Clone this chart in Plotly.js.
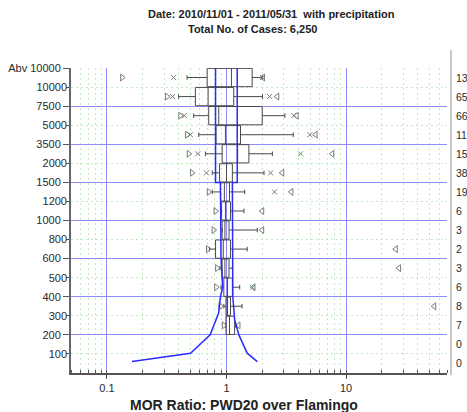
<!DOCTYPE html>
<html>
<head>
<meta charset="utf-8">
<script src="https://cdn.plot.ly/plotly-3.0.1.min.js"></script>
<style>html,body{margin:0;padding:0;background:#fff;overflow:hidden}#chart{width:467px;height:412px}</style>
</head>
<body>
<div id="chart"></div>
<script>
// Visibility bins (y axis boundaries), bottom to top
const binLabels = ['100','200','300','400','500','600','800','1000','1200','1500','2000','3500','5000','7500','10000','Abv 10000'];
// Case counts shown at right, per row (row 0 = bottom); only the visible digits
const rowCounts = ['0','0','7','8','6','3','2','3','6','19','38','15','11','66','65','13'];

// Box rows (row index, 0 = bottom)
const boxRows   = [15, 14, 13, 12, 11, 10, 9, 8, 7, 6, 5, 4, 3, 2];
const minVal    = [0.134, 0.318, 0.411, 0.468, 0.483, 0.515, 0.711, 0.81, 0.78, 0.70, 0.835, 0.82, 0.89, 0.95];
const lowPct    = [0.361, 0.354, 0.444, 0.499, 0.575, 0.68, null, null, null, null, null, null, null, null];
const whiskLow  = [0.468, 0.398, 0.532, 0.586, 0.667, 0.76, 0.76, 0.91, 0.92, 0.72, 0.88, 0.90, 0.95, 0.99];
const q1Val     = [0.689, 0.549, 0.71, 0.817, 0.92, 0.875, 0.89, 0.91, 0.92, 0.81, 0.92, 0.95, 0.99, 0.99];
const medVal    = [1.10, 0.702, 0.862, 0.98, 1.24, 1.0, 0.96, 0.98, 0.97, 0.94, 0.97, 1.02, 1.02, 1.06];
const q3Val     = [1.64, 1.15, 1.99, 1.31, 1.54, 1.12, 1.06, 1.08, 1.05, 1.08, 1.05, 1.12, 1.08, 1.17];
const whiskHigh = [1.99, 2.0, 3.08, 3.62, 2.42, 2.06, 1.42, 1.40, 1.81, 1.49, 1.12, 1.29, 1.35, 1.19];
const highPct   = [2.0, 2.29, 3.66, 4.99, 4.17, 2.34, 2.52, null, null, null, null, 1.65, null, null];
const maxVal    = [2.02, 2.66, 3.86, 5.57, 7.68, 2.93, 3.49, 1.99, 1.99, 26.1, 27.8, 1.68, 54.7, 1.26];

// Blue envelope line (x ratio, y row position)
const envLeftX  = [0.162, 0.50, 0.73, 0.86, 0.89, 0.93, 0.90, 0.89, 0.81, 0.81];
const envLeftY  = [0.1, 0.54, 1.5, 2.64, 3.5, 4.0, 5.5, 9.5, 9.5, 15.8];
const envRightX = [1.23, 1.23, 1.12, 1.12, 1.13, 1.17, 1.27, 1.49, 1.81];
const envRightY = [15.8, 9.5, 9.5, 5.0, 3.5, 2.3, 1.5, 0.54, 0.1];

// x tick values
const xTicks = [0.1, 1, 10];
const xTickText = ['0.1', '1', '10'];

const majorIdx = binLabels.map((_, i) => i).filter(i => i % 2 === 1);
const minorIdx = binLabels.map((_, i) => i).filter(i => i % 2 === 0);

const gray = '#7a7a7a';
const green = '#5aa05a';
const highColors = boxRows.map(r => (r === 11 || r === 4) ? green : gray);

const traces = [
  {
    type: 'box', orientation: 'h', y: boxRows,
    q1: q1Val, median: medVal, q3: q3Val, lowerfence: whiskLow, upperfence: whiskHigh,
    boxpoints: false, width: 0.96, whiskerwidth: 0.25,
    line: {color: '#4a4a4a', width: 1}, fillcolor: 'rgba(0,0,0,0)',
    xaxis: 'x', yaxis: 'y', showlegend: false, hoverinfo: 'skip'
  },
  {
    type: 'scatter', mode: 'markers', x: minVal, y: boxRows,
    marker: {symbol: 'triangle-right-open', size: 6, color: gray, line: {width: 1, color: gray}},
    showlegend: false, hoverinfo: 'skip'
  },
  {
    type: 'scatter', mode: 'markers', x: lowPct, y: boxRows,
    marker: {symbol: 'x-thin-open', size: 5, color: gray, line: {width: 1, color: gray}},
    showlegend: false, hoverinfo: 'skip'
  },
  {
    type: 'scatter', mode: 'markers', x: highPct, y: boxRows,
    marker: {symbol: 'x-thin-open', size: 5, color: highColors, line: {width: 1, color: highColors}},
    showlegend: false, hoverinfo: 'skip'
  },
  {
    type: 'scatter', mode: 'markers', x: maxVal, y: boxRows,
    marker: {symbol: 'triangle-left-open', size: 6, color: gray, line: {width: 1, color: gray}},
    showlegend: false, hoverinfo: 'skip'
  },
  {
    type: 'scatter', mode: 'lines',
    x: envLeftX.concat([null], envRightX), y: envLeftY.concat([null], envRightY),
    line: {color: '#2b2bff', width: 1.5}, connectgaps: false,
    xaxis: 'x', yaxis: 'y2', showlegend: false, hoverinfo: 'skip'
  }
];

const tickFont = {family: 'Liberation Sans, Arial, sans-serif', size: 11, color: '#2a2a2a'};
const countFont = {family: 'Liberation Sans, Arial, sans-serif', size: 10.5, color: '#2a2a2a'};
const yRange = [-0.5, 15.5];
const greenGrid = '#c2eac2';

const annotations = rowCounts.map((c, i) => ({
  xref: 'paper', yref: 'y', x: 1.02, y: i, text: c, showarrow: false,
  xanchor: 'left', yanchor: 'middle', font: countFont, borderpad: 0
}));
annotations.push(
  {xref: 'paper', yref: 'paper', x: 0.532, y: 1.177, showarrow: false, xanchor: 'center', yanchor: 'middle',
   text: '<b>Date: 2010/11/01 - 2011/05/31  with precipitation</b>',
   font: {family: 'Liberation Sans, Arial, sans-serif', size: 11, color: '#222'}},
  {xref: 'paper', yref: 'paper', x: 0.484, y: 1.128, showarrow: false, xanchor: 'center', yanchor: 'middle',
   text: '<b>Total No. of Cases: 6,250</b>',
   font: {family: 'Liberation Sans, Arial, sans-serif', size: 11, color: '#222'}},
  {xref: 'paper', yref: 'paper', x: 0.46, y: -0.105, showarrow: false, xanchor: 'center', yanchor: 'middle',
   text: '<b>MOR Ratio: PWD20 over Flamingo</b>',
   font: {family: 'Liberation Sans, Arial, sans-serif', size: 14, color: '#222'}}
);

const layout = {
  width: 467, height: 412,
  margin: {l: 71, r: 20, t: 68, b: 39},
  paper_bgcolor: '#fff', plot_bgcolor: '#fff',
  showlegend: false,
  xaxis: {
    type: 'log', range: [Math.log10(0.05), Math.log10(70)],
    tickmode: 'array', tickvals: xTicks, ticktext: xTickText,
    ticks: 'outside', ticklen: 4, tickcolor: '#555',
    showgrid: true, gridcolor: '#8c8cff', gridwidth: 1,
    minor: {dtick: 'D1', showgrid: true, gridcolor: greenGrid, griddash: '2px,3px', gridwidth: 1,
            ticks: 'inside', ticklen: 3, tickcolor: '#555'},
    showline: true, linecolor: '#555', linewidth: 2,
    zeroline: false, tickfont: tickFont, fixedrange: true
  },
  yaxis: {
    range: yRange, tickmode: 'array',
    tickvals: majorIdx.map(i => i + 0.5), ticktext: majorIdx.map(i => binLabels[i]),
    ticks: 'outside', ticklen: 6, tickcolor: '#555',
    showgrid: true, gridcolor: '#8c8cff', gridwidth: 1,
    minor: {tickmode: 'array', tickvals: minorIdx.map(i => i + 0.5), showgrid: true,
            gridcolor: greenGrid, griddash: '2px,3px', gridwidth: 1,
            ticks: 'outside', ticklen: 3, tickcolor: '#555'},
    showline: true, linecolor: '#666', linewidth: 2,
    zeroline: false, tickfont: tickFont, fixedrange: true
  },
  yaxis2: {
    overlaying: 'y', side: 'left', range: yRange, tickmode: 'array',
    tickvals: minorIdx.map(i => i + 0.5), ticktext: minorIdx.map(i => binLabels[i]),
    ticks: '', ticklabelstandoff: 3,
    showgrid: false, showline: false, zeroline: false, tickfont: tickFont, fixedrange: true
  },
  shapes: [
    {type: 'line', xref: 'paper', yref: 'paper', x0: 1.0106, x1: 1.0106, y0: -0.007, y1: 1.059,
     line: {color: '#c8c8c8', width: 2}}
  ],
  annotations: annotations
};

Plotly.newPlot('chart', traces, layout, {displayModeBar: false, staticPlot: true});
</script>
</body>
</html>
